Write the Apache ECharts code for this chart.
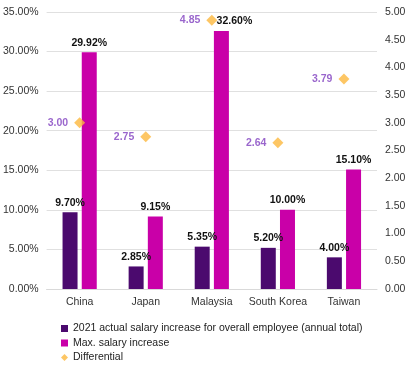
<!DOCTYPE html>
<html><head><meta charset="utf-8">
<script src="https://cdn.jsdelivr.net/npm/echarts@6/dist/echarts.min.js"></script>
<style>html,body{margin:0;padding:0;background:#fff}#c{width:409px;height:368px}</style>
</head><body><div id="c"></div>
<script>
var categories = ['China', 'Japan', 'Malaysia', 'South Korea', 'Taiwan'];
var actualIncrease = [9.70, 2.85, 5.35, 5.20, 4.00];
var maxIncrease = [29.92, 9.15, 32.60, 10.00, 15.10];
var differential = [3.00, 2.75, 4.85, 2.64, 3.79];
var leftTicks = [0, 5, 10, 15, 20, 25, 30, 35];
var rightTicks = [0, 0.5, 1, 1.5, 2, 2.5, 3, 3.5, 4, 4.5, 5];

var font = 'Liberation Sans, Arial, sans-serif';
var fs = 10.5;
var chart = echarts.init(document.getElementById('c'));
var maxData = maxIncrease.map(function (v, i) {
  return i === 2 ? { value: v, label: { offset: [13, 0] } } : v;
});
chart.setOption({
  animation: false,
  textStyle: { fontFamily: font },
  grid: { left: 45, right: 32, top: 12, bottom: 79 },
  legend: {
    orient: 'vertical', left: 61, top: 323, height: 60, padding: 0,
    itemWidth: 7, itemHeight: 7, itemGap: 3.5,
    textStyle: { fontSize: fs, color: '#222', fontFamily: font },
    data: [
      { name: '2021 actual salary increase for overall employee (annual total)', icon: 'rect' },
      { name: 'Max. salary increase', icon: 'rect' },
      { name: 'Differential', icon: 'diamond' }
    ]
  },
  xAxis: {
    type: 'category', data: categories,
    axisTick: { show: false },
    axisLine: { lineStyle: { color: '#d9d9d9' } },
    axisLabel: { color: '#333', fontSize: fs, margin: 8, interval: 0 }
  },
  yAxis: [{
    type: 'value', min: leftTicks[0], max: leftTicks[leftTicks.length - 1], interval: 5,
    axisLabel: { color: '#333', fontSize: fs, margin: 8, formatter: function (v) { return v.toFixed(2) + '%'; } },
    splitLine: { lineStyle: { color: '#e0e0e0' } },
    axisLine: { show: false }, axisTick: { show: false }
  }, {
    type: 'value', min: rightTicks[0], max: rightTicks[rightTicks.length - 1], interval: 0.5,
    axisLabel: { color: '#333', fontSize: fs, margin: 8, formatter: function (v) { return v.toFixed(2); } },
    splitLine: { show: false },
    axisLine: { show: false }, axisTick: { show: false }
  }],
  series: [{
    name: '2021 actual salary increase for overall employee (annual total)',
    type: 'bar', data: actualIncrease, barWidth: 15, barGap: '28%',
    itemStyle: { color: '#4b0a6e' },
    label: { show: true, position: 'top', distance: 4, color: '#111', fontWeight: 'bold', fontSize: fs,
      formatter: function (p) { return p.value.toFixed(2) + '%'; } }
  }, {
    name: 'Max. salary increase',
    type: 'bar', data: maxData, barWidth: 15,
    itemStyle: { color: '#c900a8' },
    label: { show: true, position: 'top', distance: 4, color: '#111', fontWeight: 'bold', fontSize: fs,
      formatter: function (p) { return (+p.value).toFixed(2) + '%'; } }
  }, {
    name: 'Differential',
    type: 'scatter', yAxisIndex: 1, data: differential,
    symbol: 'diamond', symbolSize: 11,
    itemStyle: { color: '#fdb83d' },
    label: { show: true, position: 'left', distance: 6, color: '#7f3fbf', fontWeight: 'bold', fontSize: fs,
      formatter: function (p) { return p.value.toFixed(2); } },
    z: 5
  }]
});
</script></body></html>
